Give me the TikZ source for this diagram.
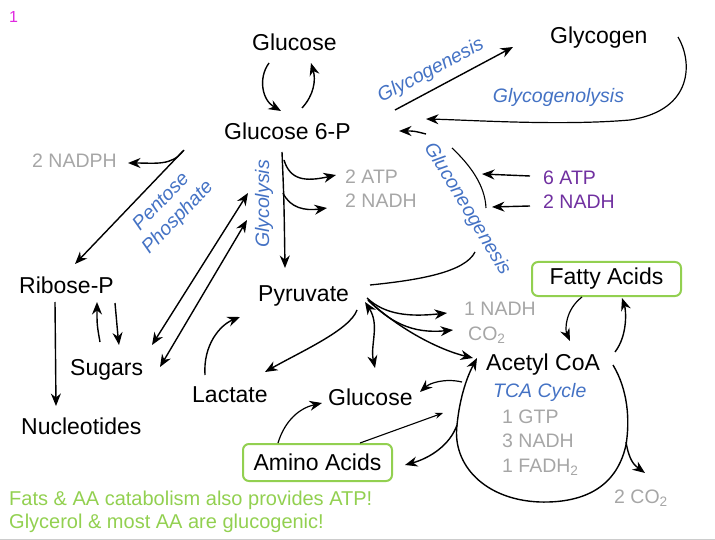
\documentclass[tikz,border=0pt]{standalone}
\usepackage{fontspec}
\setmainfont{Liberation Sans}
\usetikzlibrary{arrows.meta}
\definecolor{tblue}{RGB}{68,114,196}
\definecolor{tgrey}{RGB}{166,166,166}
\definecolor{tgreen}{RGB}{146,208,80}
\definecolor{tpurple}{RGB}{112,48,160}
\definecolor{tmag}{RGB}{224,40,224}
\tikzset{
  blk/.style={font=\fontsize{23}{27}\selectfont, inner sep=0pt, anchor=base west},
  gry/.style={font=\fontsize{19.5}{23}\selectfont, text=tgrey, inner sep=0pt, anchor=base west},
  pur/.style={font=\fontsize{19.5}{23}\selectfont, text=tpurple, inner sep=0pt, anchor=base west},
  lbl/.style={font=\fontsize{19.5}{23}\selectfont\itshape, text=tblue, inner sep=0pt},
  grn/.style={font=\fontsize{20}{24}\selectfont, text=tgreen, inner sep=0pt, anchor=base west},
  gbox/.style={draw=tgreen, line width=2pt, rounded corners=6pt, font=\fontsize{23}{27}\selectfont, inner sep=0pt},
  tip/.tip={Stealth[length=12.5pt,width=10pt]},
  arr/.style={line width=1.4pt, -tip},
  darr/.style={line width=1.4pt, tip-tip},
  ln/.style={line width=1.3pt},
  thin/.style={line width=1.1pt, -{Stealth[length=8pt,width=6pt]}}
}
\begin{document}
\begin{tikzpicture}[x=1pt,y=-1pt]
\useasboundingbox (0,0) rectangle (715,540);
\draw[black!20, line width=1pt] (0,539) -- (715,539);

% ---- text nodes ----
\node[inner sep=0pt, anchor=base west, font=\fontsize{16}{18}\selectfont, text=tmag] (one) at (9,23) {1};
\node[blk] (glc) at (252,51) {Glucose};
\node[blk] (gly) at (550,44) {Glycogen};
\node[blk] (g6p) at (224,140) {Glucose 6-P};
\node[gry] (nadph) at (32,168) {2 NADPH};
\node[blk] (rib) at (19,293) {Ribose-P};
\node[blk] (sug) at (70,375) {Sugars};
\node[blk] (nuc) at (21,434) {Nucleotides};
\node[blk] (pyr) at (258,301) {Pyruvate};
\node[blk] (lac) at (192,402) {Lactate};
\node[blk] (glc2) at (328,405) {Glucose};
\node[blk] (acoa) at (486,370) {Acetyl CoA};
\node[gbox, minimum width=149pt, minimum height=34pt] (fa) at (606.5,279) {Fatty Acids};
\node[gbox, minimum width=149pt, minimum height=37pt] (aa) at (317.5,462.5) {Amino Acids};

\node[gry] (atp1) at (345,184) {2 ATP};
\node[gry] (nadh1) at (345,208) {2 NADH};
\node[pur] (atp6) at (543,185) {6 ATP};
\node[pur] (nadh2) at (543,209) {2 NADH};
\node[gry] (nadh3) at (464,315) {1 NADH};
\node[gry] (co2a) at (468,340) {CO\textsubscript{2}};
\node[gry] (gtp) at (502,423) {1 GTP};
\node[gry] (nadh4) at (502,447) {3 NADH};
\node[gry] (fadh) at (502,472) {1 FADH\textsubscript{2}};
\node[gry] (co2b) at (614,503) {2 CO\textsubscript{2}};

\node[lbl, anchor=base west] (tca) at (493,397) {TCA Cycle};
\node[lbl, rotate=28] (lgen) at (431,71) {Glycogenesis};
\node[lbl, anchor=base] (lgly) at (558.5,103) {Glycogenolysis};
\node[lbl, rotate=46, align=center] (lpp) at (170,210) {Pentose\\Phosphate};
\node[lbl, rotate=90] (lglyc) at (264,204) {Glycolysis};
\node[lbl, rotate=-59] (lgng) at (467,209) {Gluconeogenesis};

\node[grn] (f1) at (9,505) {Fats \& AA catabolism also provides ATP!};
\node[grn] (f2) at (9,528) {Glycerol \& most AA are glucogenic!};

% ---- connectors ----
% Glucose <-> G6P
\draw[arr] (269,63) .. controls (258,78) and (262,100) .. (281,111);
\draw[arr] (302,108) .. controls (314,95) and (316,80) .. (311,63);
% glycolysis
\draw[arr] (282,152) .. controls (284,200) .. (285,268);
\draw[arr] (284,160) .. controls (290,180) and (305,182) .. (336,175);
\draw[arr] (283,193) .. controls (290,208) and (305,211) .. (327,208);
% pentose phosphate
\draw[arr] (184,150) -- (75,264);
\draw[arr] (183,151) .. controls (172,166) and (155,163) .. (128,163);
% Ribose-P / Sugars / Nucleotides
\draw[arr] (100,342) .. controls (97,325) .. (97,302);
\draw[arr] (115,303) .. controls (116,320) .. (119,345);
\draw[arr] (55,302) -- (56,406);
% Sugars <-> glycolysis
\draw[darr] (152,345) -- (248,193);
\draw[darr] (160,367) -- (247,220);
% Lactate <-> Pyruvate
\draw[arr] (205,375) .. controls (203,345) and (220,325) .. (240,317);
\draw[arr] (357,310) .. controls (350,330) and (300,352) .. (265,372);
% Pyruvate <-> Glucose
\draw[darr] (365,302) .. controls (380,325) and (370,345) .. (375,368);
% Pyruvate -> NADH, CO2, Acetyl CoA
\draw[arr] (367,298) .. controls (385,315) and (410,317) .. (447,313);
\draw[arr] (368,300) .. controls (390,322) and (412,334) .. (453,330);
\draw[arr] (368,300) .. controls (400,330) and (440,350) .. (473,358);
% Gluconeogenesis
\draw[ln] (370,285) .. controls (420,280) and (465,272) .. (475,252);
\draw[line width=1.1pt] (452,148) .. controls (470,165) and (485,185) .. (486,208);
\draw[arr] (426,134) .. controls (414,131) .. (399,131);
\draw[arr] (530,176) -- (482,174);
\draw[arr] (530,206) -- (492,207);
% Glycogen
\draw[arr] (395,110) -- (513,47);
\draw[line width=1.2pt, -tip] (678,37) .. controls (692,60) and (695,110) .. (630,120) .. controls (560,126) and (470,120) .. (426,119);
% Fatty acids <-> Acetyl CoA
\draw[line width=1.2pt, -tip] (582,297) .. controls (565,310) and (565,330) .. (570,341);
\draw[arr] (615,352) .. controls (628,335) and (626,310) .. (622,298);
% TCA cycle
\draw[arr] (613,365) .. controls (628,390) and (630,420) .. (626,445) .. controls (616,490) and (580,503) .. (540,502) .. controls (485,500) and (452,465) .. (457,425) .. controls (460,395) and (468,375) .. (477,358);
\draw[arr] (626,442) .. controls (629,460) and (634,465) .. (645,473);
% Acetyl CoA -> Glucose
\draw[line width=1.2pt, -tip] (462,382) .. controls (445,378) and (430,383) .. (420,392);
% Amino acids
\draw[line width=1.2pt, -tip] (278,443) .. controls (285,420) and (300,408) .. (322,403);
\draw[thin] (360,443) -- (443,413);
\draw[arr] (457,425) .. controls (450,445) and (430,458) .. (405,465);
\end{tikzpicture}
\end{document}
